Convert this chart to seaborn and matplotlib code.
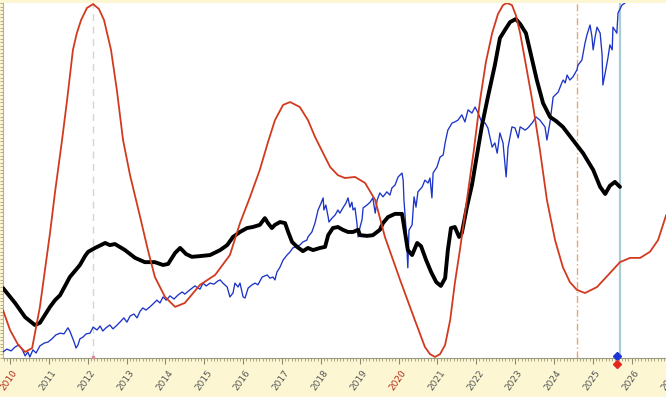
import matplotlib
matplotlib.use("Agg")
import matplotlib.pyplot as plt
from matplotlib.ticker import MultipleLocator, FixedLocator, NullFormatter
import matplotlib.transforms as mtransforms
import pandas as pd
import seaborn as sns

# ---------------- data (decimal years, relative value 0-100) ----------------
cycle_year = [2009.82, 2010.00, 2010.21, 2010.39, 2010.57, 2010.77, 2011.03, 2011.16, 2011.34, 2011.47,
              2011.62, 2011.72, 2011.83, 2011.98, 2012.14, 2012.29, 2012.42, 2012.60, 2012.75, 2012.91,
              2013.09, 2013.35, 2013.55, 2013.73, 2013.99, 2014.25, 2014.50, 2014.89, 2015.28, 2015.66,
              2015.92, 2016.18, 2016.43, 2016.64, 2016.82, 2017.03, 2017.21, 2017.46, 2017.67, 2017.85,
              2018.06, 2018.24, 2018.44, 2018.62, 2018.88, 2019.14, 2019.40, 2019.65, 2019.86, 2020.04,
              2020.42, 2020.68, 2020.81, 2020.94, 2021.07, 2021.20, 2021.33, 2021.45, 2021.58, 2021.76,
              2021.94, 2022.10, 2022.25, 2022.41, 2022.56, 2022.69, 2022.79, 2022.92, 2023.02, 2023.13,
              2023.28, 2023.44, 2023.64, 2023.82, 2024.03, 2024.23, 2024.41, 2024.59, 2024.80, 2025.11,
              2025.44, 2025.70, 2025.96, 2026.22, 2026.47, 2026.68, 2026.89]
cycle_val = [13.5, 7.9, 3.7, 1.7, 2.8, 14.4, 35.2, 46.8, 61.4, 72.7,
             86.8, 91.5, 95.2, 98.6, 99.7, 98.3, 95.2, 86.8, 75.5, 61.4,
             51.5, 39.7, 30.4, 22.8, 17.2, 14.4, 15.5, 20.6, 23.4, 29.0,
             38.0, 45.4, 53.0, 60.8, 67.0, 71.3, 72.1, 70.7, 67.0, 62.3,
             57.7, 53.8, 51.5, 50.7, 51.0, 49.3, 44.5, 34.1, 27.6, 22.0,
             10.7, 3.1, 1.1, 0.3, 1.1, 3.7, 10.7, 21.1, 30.4, 44.5,
             58.6, 72.7, 83.4, 91.5, 96.9, 99.4, 100.0, 99.4, 96.6, 91.5,
             82.5, 72.7, 58.6, 44.5, 33.2, 25.6, 21.4, 19.2, 18.3, 20.0,
             23.9, 27.0, 28.2, 28.2, 29.9, 33.2, 40.3]

oscillator_year = [2009.82, 2010.13, 2010.39, 2010.64, 2010.77, 2011.03, 2011.16, 2011.29, 2011.54, 2011.80,
                   2011.93, 2012.01, 2012.19, 2012.45, 2012.57, 2012.70, 2012.96, 2013.22, 2013.47, 2013.73,
                   2013.94, 2014.07, 2014.25, 2014.38, 2014.53, 2014.68, 2014.89, 2015.15, 2015.41, 2015.59,
                   2015.74, 2015.92, 2016.10, 2016.25, 2016.43, 2016.56, 2016.64, 2016.74, 2016.82, 2016.95,
                   2017.08, 2017.16, 2017.26, 2017.39, 2017.54, 2017.67, 2017.80, 2017.98, 2018.11, 2018.19,
                   2018.31, 2018.44, 2018.57, 2018.70, 2018.83, 2018.96, 2019.01, 2019.19, 2019.34, 2019.52,
                   2019.60, 2019.73, 2019.91, 2020.09, 2020.17, 2020.24, 2020.35, 2020.48, 2020.58, 2020.71,
                   2020.84, 2020.97, 2021.09, 2021.20, 2021.27, 2021.35, 2021.45, 2021.56, 2021.63, 2021.76,
                   2021.89, 2022.02, 2022.15, 2022.30, 2022.48, 2022.61, 2022.74, 2022.87, 2023.02, 2023.13,
                   2023.28, 2023.38, 2023.56, 2023.72, 2023.90, 2024.05, 2024.23, 2024.49, 2024.75, 2025.01,
                   2025.19, 2025.32, 2025.44, 2025.57, 2025.70]
oscillator_val = [19.7, 15.5, 11.5, 9.3, 9.9, 14.4, 16.3, 17.7, 22.8, 26.2,
                  28.7, 29.9, 31.0, 32.4, 31.8, 32.1, 30.4, 28.2, 27.0, 27.0,
                  26.2, 26.5, 29.6, 31.0, 29.3, 28.5, 28.7, 29.0, 30.4, 31.8,
                  34.1, 35.5, 36.6, 36.9, 37.5, 39.4, 38.0, 36.6, 37.5, 38.3,
                  38.0, 35.5, 32.7, 31.3, 30.1, 31.0, 30.4, 31.0, 31.3, 34.6,
                  36.6, 36.9, 36.1, 35.5, 35.5, 36.1, 34.6, 34.4, 34.6, 36.1,
                  38.0, 39.7, 40.6, 40.6, 35.2, 30.4, 29.0, 32.4, 31.5, 27.6,
                  24.2, 21.4, 20.3, 22.5, 30.4, 36.6, 36.9, 34.1, 35.2, 42.5,
                  48.7, 57.2, 65.6, 73.5, 82.5, 90.1, 92.4, 94.6, 95.5, 94.1,
                  91.5, 86.8, 78.3, 71.8, 67.9, 66.8, 65.1, 61.4, 57.7, 53.0,
                  48.2, 46.2, 48.5, 49.6, 48.2]

index_year = [2009.82, 2009.92, 2010.03, 2010.13, 2010.23, 2010.31, 2010.39, 2010.46, 2010.51, 2010.59,
              2010.67, 2010.77, 2010.88, 2010.98, 2011.08, 2011.18, 2011.29, 2011.39, 2011.49, 2011.54,
              2011.60, 2011.65, 2011.70, 2011.75, 2011.80, 2011.88, 2011.96, 2012.06, 2012.14, 2012.24,
              2012.32, 2012.39, 2012.47, 2012.57, 2012.65, 2012.73, 2012.83, 2012.93, 2013.01, 2013.09,
              2013.19, 2013.27, 2013.35, 2013.42, 2013.50, 2013.60, 2013.68, 2013.78, 2013.86, 2013.94,
              2014.02, 2014.12, 2014.22, 2014.32, 2014.43, 2014.50, 2014.63, 2014.76, 2014.89, 2014.97,
              2015.05, 2015.15, 2015.25, 2015.35, 2015.41, 2015.48, 2015.59, 2015.66, 2015.74, 2015.79,
              2015.87, 2015.92, 2016.00, 2016.05, 2016.13, 2016.23, 2016.31, 2016.38, 2016.49, 2016.62,
              2016.69, 2016.77, 2016.82, 2016.87, 2016.95, 2017.03, 2017.13, 2017.21, 2017.28, 2017.46,
              2017.54, 2017.64, 2017.67, 2017.77, 2017.85, 2017.93, 2018.01, 2018.06, 2018.08, 2018.13,
              2018.19, 2018.21, 2018.29, 2018.37, 2018.44, 2018.49, 2018.57, 2018.65, 2018.70, 2018.75,
              2018.80, 2018.83, 2018.88, 2018.93, 2018.96, 2019.01, 2019.06, 2019.09, 2019.19, 2019.27,
              2019.34, 2019.40, 2019.45, 2019.52, 2019.60, 2019.70, 2019.78, 2019.83, 2019.91, 2019.99,
              2020.09, 2020.12, 2020.14, 2020.19, 2020.24, 2020.27, 2020.35, 2020.40, 2020.45, 2020.50,
              2020.61, 2020.68, 2020.76, 2020.81, 2020.86, 2020.89, 2020.99, 2021.07, 2021.15, 2021.20,
              2021.27, 2021.38, 2021.45, 2021.53, 2021.63, 2021.71, 2021.79, 2021.89, 2021.97, 2022.05,
              2022.15, 2022.23, 2022.30, 2022.41, 2022.48, 2022.54, 2022.61, 2022.69, 2022.77, 2022.82,
              2022.92, 2023.00, 2023.08, 2023.13, 2023.26, 2023.33, 2023.44, 2023.54, 2023.64, 2023.77,
              2023.82, 2023.90, 2023.98, 2024.11, 2024.21, 2024.24, 2024.29, 2024.34, 2024.41, 2024.49,
              2024.59, 2024.62, 2024.72, 2024.80, 2024.85, 2024.93, 2024.98, 2025.01, 2025.06, 2025.11,
              2025.19, 2025.24, 2025.26, 2025.32, 2025.39, 2025.44, 2025.50, 2025.52, 2025.62, 2025.65,
              2025.75, 2025.83]
index_val = [1.7, 2.5, 2.0, 3.1, 3.7, 2.5, 0.6, 1.7, 0.3, 2.3,
             1.4, 3.4, 4.2, 4.5, 5.4, 6.5, 7.0, 6.8, 8.5, 7.6,
             5.9, 4.5, 2.8, 3.7, 5.4, 5.9, 6.8, 7.0, 8.7, 7.9,
             9.0, 7.6, 8.5, 9.3, 8.2, 9.0, 10.1, 11.3, 10.1, 11.8,
             12.4, 11.3, 13.2, 14.1, 13.5, 14.4, 15.2, 16.3, 15.5, 17.2,
             16.3, 17.5, 16.6, 17.7, 18.6, 18.0, 19.2, 20.3, 19.4, 21.1,
             20.3, 21.1, 20.8, 21.7, 22.0, 21.1, 20.0, 17.2, 18.3, 21.1,
             20.0, 21.1, 17.2, 16.9, 19.7, 20.6, 21.1, 20.6, 22.8, 23.4,
             22.5, 22.8, 22.0, 24.2, 25.6, 27.6, 29.0, 29.9, 31.0, 31.8,
             32.7, 33.2, 34.1, 35.5, 38.0, 41.7, 43.7, 45.1, 41.7, 43.1,
             39.7, 38.3, 39.4, 40.3, 41.7, 40.8, 42.3, 43.7, 45.1, 42.5,
             43.9, 41.7, 42.3, 38.0, 34.1, 36.9, 38.9, 42.3, 43.1, 43.9,
             45.1, 40.8, 44.5, 46.5, 45.4, 46.8, 45.9, 47.9, 48.7, 51.0,
             52.1, 50.1, 44.5, 36.9, 25.4, 36.0, 37.5, 45.4, 42.5, 46.8,
             48.2, 50.1, 49.3, 50.7, 45.1, 52.1, 53.8, 56.6, 57.2, 60.6,
             64.2, 66.2, 66.5, 67.0, 68.5, 66.5, 69.9, 69.0, 70.7, 69.0,
             66.2, 66.2, 64.8, 59.4, 60.6, 57.7, 63.4, 60.6, 51.0, 59.4,
             65.1, 64.8, 62.0, 65.1, 64.2, 64.8, 66.2, 67.9, 67.0, 65.1,
             61.4, 66.5, 73.5, 74.9, 77.7, 78.3, 77.5, 79.7, 78.3, 79.2,
             81.1, 82.5, 83.9, 88.7, 91.0, 93.8, 90.4, 86.8, 90.4, 93.2,
             91.5, 85.4, 76.9, 80.3, 84.5, 88.2, 86.8, 93.2, 91.5, 97.2,
             99.4, 100.0]

year_ticks = list(range(2010, 2027))
year_labels = [str(y) for y in year_ticks]
edge_year = 2027
red_labels = ["2010", "2020"]

marker_gray_year = 2012.14
marker_orange_year = 2024.59
marker_now_year = 2025.70
now_point_year = 2025.62

# ---------------- style ----------------
CREAM = "#fcf7d2"
RED = "#d23a1f"
BLUE = "#1c34c8"
sns.set_theme(style="white")

fig = plt.figure(figsize=(6.66, 3.97), dpi=100, facecolor=CREAM)
ax = fig.add_axes([3 / 666, 39 / 397, 663 / 666, 355 / 397])
ax.set_facecolor("white")

df_idx = pd.DataFrame({"year": index_year, "val": index_val})
df_osc = pd.DataFrame({"year": oscillator_year, "val": oscillator_val})
df_cyc = pd.DataFrame({"year": cycle_year, "val": cycle_val})

ax.axvline(marker_gray_year, color="#d4d4d4", lw=1.0, ls=(0, (5, 4)), zorder=1)
ax.axvline(marker_orange_year, color="#eaa56a", lw=1.0, ls=(0, (5, 2, 1, 2)), zorder=1)
ax.axvline(marker_now_year, color="#a9ccd9", lw=1.6, zorder=1)

sns.lineplot(data=df_idx, x="year", y="val", ax=ax, color=BLUE, lw=0.95, sort=False, legend=False, zorder=3)
sns.lineplot(data=df_osc, x="year", y="val", ax=ax, color="black", lw=2.8, sort=False, legend=False, zorder=4)
sns.lineplot(data=df_cyc, x="year", y="val", ax=ax, color=RED, lw=1.3, sort=False, legend=False, zorder=5)

ax.plot([now_point_year], [0.6], marker="D", ms=4.5, color="#1c34d8", clip_on=False, zorder=6)
ax.plot([now_point_year], [-1.6], marker="D", ms=4.5, color="#e0281c", clip_on=False, zorder=6)
ax.plot([marker_gray_year], [0.2], marker="s", ms=2, color="#d88aa0", clip_on=False, zorder=6)

ax.set_xlim(2009.82, 2026.885)
ax.set_ylim(0, 100)
ax.set_xlabel("")
ax.set_ylabel("")

for s in ["top", "right"]:
    ax.spines[s].set_visible(False)
ax.spines["bottom"].set_color("#9a9a80")
ax.spines["bottom"].set_linewidth(0.8)
ax.spines["left"].set_color("#b8b090")
ax.spines["left"].set_linewidth(0.8)

ax.xaxis.set_major_locator(FixedLocator(year_ticks))
ax.xaxis.set_minor_locator(MultipleLocator(1 / 12))
ax.set_xticklabels(year_labels)
ax.tick_params(axis="x", which="major", direction="out", length=4, width=0.8, color="#8a8a70",
               labelsize=6.5, labelcolor="#555555", pad=3, bottom=True)
ax.tick_params(axis="x", which="minor", direction="out", length=2, width=0.6, color="#9a9a80", bottom=True)
ax.yaxis.set_major_locator(MultipleLocator(10))
ax.yaxis.set_minor_locator(MultipleLocator(1))
ax.yaxis.set_major_formatter(NullFormatter())
ax.tick_params(axis="y", which="both", direction="out", length=2.5, width=0.6, color="#a8a080", left=True)

label_shift = mtransforms.ScaledTranslation(0.02, -0.01, fig.dpi_scale_trans)
for lab in ax.get_xticklabels():
    lab.set_rotation(55)
    lab.set_ha("right")
    lab.set_va("top")
    lab.set_rotation_mode("anchor")
    lab.set_transform(lab.get_transform() + label_shift)
    if lab.get_text() in red_labels:
        lab.set_color("#b52a18")

# partially visible label at the right edge
edge_tr = ax.get_xaxis_transform() + mtransforms.ScaledTranslation(0.02, -0.01 - 7 / 72, fig.dpi_scale_trans)
ax.text(edge_year, 0, str(edge_year), transform=edge_tr, rotation=55, ha="right", va="top",
        rotation_mode="anchor", fontsize=6.5, color="#555555", clip_on=False)

fig.savefig("out.png", dpi=100, facecolor=CREAM)
